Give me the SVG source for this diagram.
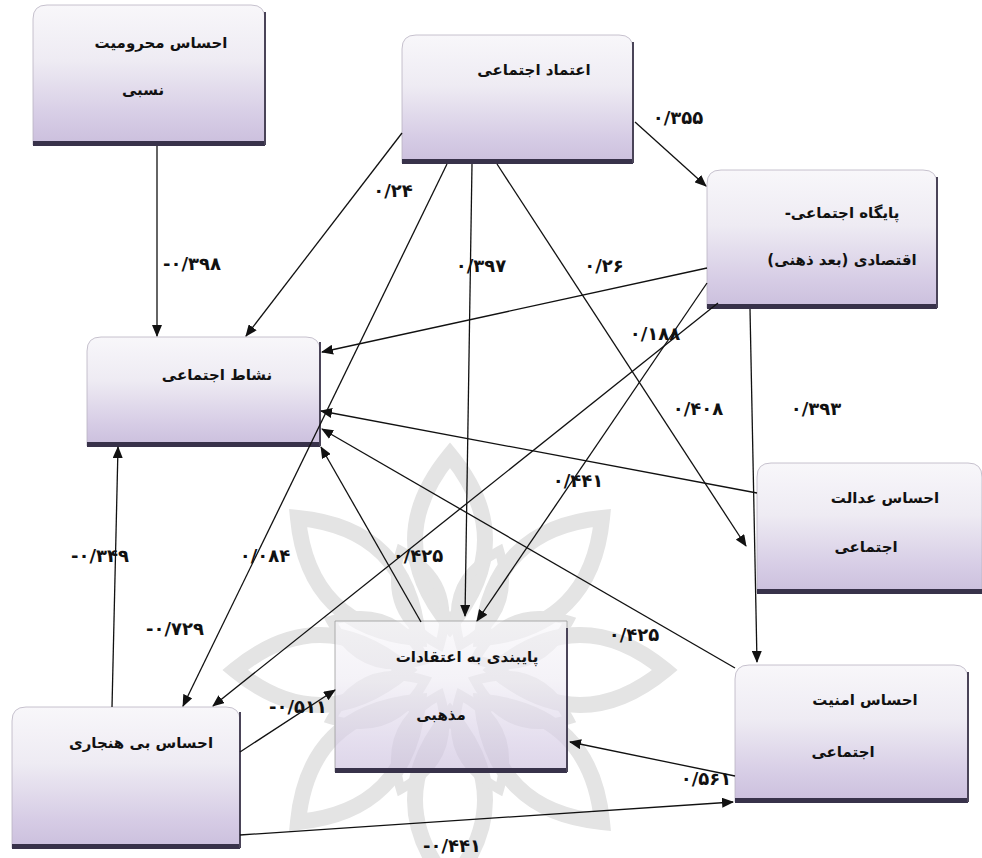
<svg xmlns="http://www.w3.org/2000/svg" width="982" height="858" viewBox="0 0 982 858">
<defs>
<linearGradient id="g" x1="0" y1="0" x2="0" y2="1">
<stop offset="0" stop-color="#f8f7fa"/>
<stop offset="0.4" stop-color="#eeebf3"/>
<stop offset="0.8" stop-color="#d6cce5"/>
<stop offset="1" stop-color="#cbbfdd"/>
</linearGradient>
<marker id="ah" markerWidth="12" markerHeight="10" refX="11" refY="5" orient="auto" markerUnits="userSpaceOnUse">
<path d="M0,0 L12,5 L0,10 Z" fill="#111"/>
</marker>
<path id="petal" d="M0,-45 Q70,-130 0,-215 Q-70,-130 0,-45 Z"/>
</defs>
<style>
.box{fill:url(#g);stroke:#b9b3c2;stroke-width:0.8}
.bar{fill:#38324a}
.edge{stroke:#4a4458;stroke-width:2}
.t{font-family:"DejaVu Sans",sans-serif;font-weight:bold;font-size:15px;fill:#111;text-anchor:middle}
.lbl{font-family:"DejaVu Sans",sans-serif;font-weight:bold;font-size:18px;letter-spacing:1px;fill:#111;text-anchor:middle}
.c line{stroke:#111;stroke-width:1.3;marker-end:url(#ah)}
.wm use{fill:none;stroke:#e4e4e4;stroke-width:16}
</style>
<rect width="982" height="858" fill="#ffffff"/>
<g id="watermark" class="wm" transform="translate(450,670)">
<use href="#petal"/><use href="#petal" transform="rotate(45)"/><use href="#petal" transform="rotate(90)"/><use href="#petal" transform="rotate(135)"/><use href="#petal" transform="rotate(180)"/><use href="#petal" transform="rotate(225)"/><use href="#petal" transform="rotate(270)"/><use href="#petal" transform="rotate(315)"/>
<use href="#petal" transform="rotate(22.5) scale(0.6)"/><use href="#petal" transform="rotate(67.5) scale(0.6)"/><use href="#petal" transform="rotate(112.5) scale(0.6)"/><use href="#petal" transform="rotate(157.5) scale(0.6)"/><use href="#petal" transform="rotate(202.5) scale(0.6)"/><use href="#petal" transform="rotate(247.5) scale(0.6)"/><use href="#petal" transform="rotate(292.5) scale(0.6)"/><use href="#petal" transform="rotate(337.5) scale(0.6)"/>
</g>
<g id="n1">
<path class="box" d="M33,145 L33,19 Q33,5 47,5 L251,5 Q265,5 265,19 L265,145 Z"/>
<rect class="bar" x="33" y="141" width="232" height="5"/>
<line class="edge" x1="265" y1="12" x2="265" y2="145"/>
<text class="t" x="161" y="48" direction="rtl">احساس محرومیت</text>
<text class="t" x="143" y="95" direction="rtl">نسبی</text>
</g>
<g id="n2">
<path class="box" d="M402,163 L402,49 Q402,35 416,35 L619,35 Q633,35 633,49 L633,163 Z"/>
<rect class="bar" x="402" y="159" width="231" height="5"/>
<line class="edge" x1="633" y1="42" x2="633" y2="163"/>
<text class="t" x="534" y="75" direction="rtl">اعتماد اجتماعی</text>
</g>
<g id="n3">
<path class="box" d="M707,308 L707,184 Q707,170 721,170 L923,170 Q937,170 937,184 L937,308 Z"/>
<rect class="bar" x="707" y="304" width="230" height="5"/>
<line class="edge" x1="937" y1="177" x2="937" y2="308"/>
<text class="t" x="842" y="218" direction="rtl">پایگاه اجتماعی-</text>
<text class="t" x="842" y="265" direction="rtl">اقتصادی (بعد ذهنی)</text>
</g>
<g id="n4">
<path class="box" d="M87,446 L87,351 Q87,337 101,337 L306,337 Q320,337 320,351 L320,446 Z"/>
<rect class="bar" x="87" y="442" width="233" height="5"/>
<line class="edge" x1="320" y1="342" x2="320" y2="446"/>
<text class="t" x="217" y="380" direction="rtl">نشاط اجتماعی</text>
</g>
<g id="n5">
<path class="box" d="M757,593 L757,477 Q757,463 771,463 L968,463 Q982,463 982,477 L982,593 Z"/>
<rect class="bar" x="757" y="589" width="225" height="5"/>
<text class="t" x="885" y="503" direction="rtl">احساس عدالت</text>
<text class="t" x="866" y="552" direction="rtl">اجتماعی</text>
</g>
<g id="n6">
<path class="box" d="M12,848 L12,721 Q12,707 26,707 L226,707 Q240,707 240,721 L240,848 Z"/>
<rect class="bar" x="12" y="844" width="228" height="5"/>
<line class="edge" x1="240" y1="712" x2="240" y2="848"/>
<text class="t" x="141" y="748" direction="rtl">احساس بی هنجاری</text>
</g>
<g id="n7">
<path d="M335,772 L335,621 L567,621 L567,772 Z" fill="url(#g)" fill-opacity="0.65" stroke="#9a9a9a" stroke-width="0.8"/>
<rect class="bar" x="335" y="768" width="232" height="5"/>
<line class="edge" x1="567" y1="628" x2="567" y2="772"/>
<text class="t" x="467" y="662" direction="rtl">پایبندی به اعتقادات</text>
<text class="t" x="441" y="720" direction="rtl">مذهبی</text>
</g>
<g id="n8">
<path class="box" d="M735,802 L735,679 Q735,665 749,665 L954,665 Q968,665 968,679 L968,802 Z"/>
<rect class="bar" x="735" y="798" width="233" height="5"/>
<line class="edge" x1="968" y1="672" x2="968" y2="802"/>
<text class="t" x="865" y="705" direction="rtl">احساس امنیت</text>
<text class="t" x="843" y="757" direction="rtl">اجتماعی</text>
</g>
<g id="connectors" class="c">
<line x1="157" y1="146" x2="157" y2="336"/>
<line x1="402" y1="133" x2="246" y2="336"/>
<line x1="635" y1="122" x2="706" y2="186"/>
<line x1="447" y1="164" x2="183" y2="706"/>
<line x1="472" y1="164" x2="465" y2="616"/>
<line x1="497" y1="164" x2="746" y2="546"/>
<line x1="707" y1="268" x2="322" y2="352"/>
<line x1="718" y1="303" x2="213" y2="706"/>
<line x1="707" y1="283" x2="477" y2="621"/>
<line x1="750" y1="309" x2="757" y2="662"/>
<line x1="757" y1="493" x2="321" y2="411"/>
<line x1="735" y1="668" x2="322" y2="429"/>
<line x1="421" y1="622" x2="321" y2="447"/>
<line x1="112" y1="707" x2="118" y2="447"/>
<line x1="240" y1="752" x2="335" y2="690"/>
<line x1="735" y1="776" x2="570" y2="742"/>
<line x1="240" y1="835" x2="733" y2="802"/>
</g>
<g id="labels">
<text class="lbl" x="192" y="270">-۰/۳۹۸</text>
<text class="lbl" x="393" y="197">۰/۲۴</text>
<text class="lbl" x="678" y="124">۰/۳۵۵</text>
<text class="lbl" x="481" y="272">۰/۳۹۷</text>
<text class="lbl" x="604" y="272">۰/۲۶</text>
<text class="lbl" x="655" y="340">۰/۱۸۸</text>
<text class="lbl" x="698" y="415">۰/۴۰۸</text>
<text class="lbl" x="816" y="415">۰/۳۹۳</text>
<text class="lbl" x="578" y="487">۰/۴۴۱</text>
<text class="lbl" x="100" y="562">-۰/۳۴۹</text>
<text class="lbl" x="265" y="562">۰/۰۸۴</text>
<text class="lbl" x="418" y="562">۰/۴۲۵</text>
<text class="lbl" x="175" y="635">-۰/۷۲۹</text>
<text class="lbl" x="634" y="641">۰/۴۲۵</text>
<text class="lbl" x="298" y="713">-۰/۵۱۱</text>
<text class="lbl" x="706" y="785">۰/۵۶۱</text>
<text class="lbl" x="452" y="852">-۰/۴۴۱</text>
</g>
</svg>
